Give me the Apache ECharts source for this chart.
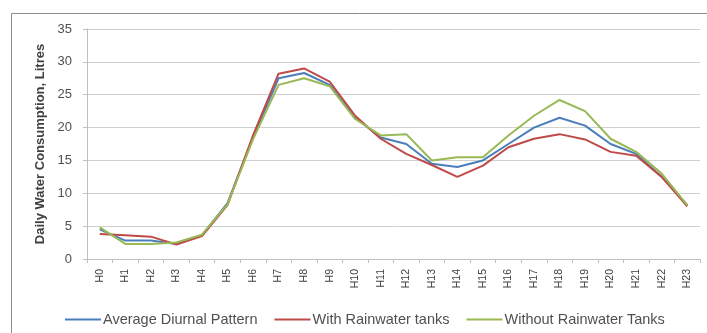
<!DOCTYPE html>
<html>
<head>
<meta charset="utf-8">
<script src="https://cdn.jsdelivr.net/npm/echarts@6/dist/echarts.min.js"></script>
<style>
  html, body { margin: 0; padding: 0; background: #fff; }
  #chart { width: 707px; height: 333px; }
</style>
</head>
<body>
<div id="chart"></div>
<script>
// Hours of the day
const hours = ['H0','H1','H2','H3','H4','H5','H6','H7','H8','H9','H10','H11',
               'H12','H13','H14','H15','H16','H17','H18','H19','H20','H21','H22','H23'];

// Daily water consumption (litres) per hour
const averagePattern = [4.5, 2.8, 2.8, 2.3, 3.6, 8.5, 18.5, 27.5, 28.3, 26.5, 21.5, 18.5,
                        17.5, 14.5, 14.0, 15.0, 17.5, 20.0, 21.5, 20.3, 17.5, 16.0, 12.5, 8.2];
const withTanks      = [3.8, 3.6, 3.4, 2.2, 3.5, 8.2, 18.8, 28.2, 29.0, 27.0, 21.8, 18.3,
                        16.0, 14.3, 12.5, 14.2, 17.0, 18.3, 19.0, 18.2, 16.3, 15.7, 12.5, 8.0];
const withoutTanks   = [4.8, 2.3, 2.3, 2.5, 3.7, 8.3, 18.2, 26.5, 27.5, 26.3, 21.3, 18.8,
                        19.0, 15.0, 15.5, 15.5, 18.8, 21.8, 24.2, 22.5, 18.3, 16.3, 13.0, 8.2];

// Axis ticks
const yMin = 0, yMax = 35, yStep = 5;

const seriesNames = ['Average Diurnal Pattern', 'With Rainwater tanks', 'Without Rainwater Tanks'];
const seriesColors = ['#4a7ebb', '#be4b48', '#98b954'];

const chart = echarts.init(document.getElementById('chart'));
const font = 'Liberation Sans, Arial, sans-serif';

function lineSeries(name, data, color) {
  return {
    name: name,
    type: 'line',
    data: data,
    symbol: 'none',
    lineStyle: { color: color, width: 2 },
    itemStyle: { color: color },
    animation: false
  };
}

chart.setOption({
  animation: false,
  graphic: [{
    type: 'rect',
    shape: { x: 11.5, y: 13.5, width: 710, height: 340 },
    style: { fill: 'none', stroke: '#8c8c8c', lineWidth: 1 },
    silent: true
  }],
  grid: { left: 87, right: 7, top: 29, bottom: 74 },
  legend: {
    data: seriesNames,
    left: 60,
    top: 307,
    icon: 'rect',
    itemWidth: 36,
    itemHeight: 2,
    itemGap: 17,
    textStyle: { fontFamily: font, fontSize: 14.5, color: '#505050', padding: [0, 0, 0, -3] }
  },
  xAxis: {
    type: 'category',
    data: hours,
    boundaryGap: true,
    axisLine: { lineStyle: { color: '#bfbfbf' } },
    axisTick: { show: true, alignWithLabel: false, length: 4, lineStyle: { color: '#bfbfbf' } },
    axisLabel: { rotate: 90, fontFamily: font, fontSize: 10.5, color: '#404040', margin: 10 }
  },
  yAxis: {
    type: 'value',
    min: yMin,
    max: yMax,
    interval: yStep,
    name: 'Daily Water Consumption, Litres',
    nameLocation: 'middle',
    nameGap: 40,
    nameTextStyle: { fontFamily: font, fontSize: 13, fontWeight: 'bold', color: '#404040' },
    axisLine: { show: true, lineStyle: { color: '#bfbfbf' } },
    axisTick: { show: true, length: 4, lineStyle: { color: '#bfbfbf' } },
    axisLabel: { fontFamily: font, fontSize: 13, color: '#505050', margin: 15 },
    splitLine: { lineStyle: { color: '#d0d0d0', width: 1 } }
  },
  series: [
    lineSeries(seriesNames[0], averagePattern, seriesColors[0]),
    lineSeries(seriesNames[1], withTanks, seriesColors[1]),
    lineSeries(seriesNames[2], withoutTanks, seriesColors[2])
  ]
});
</script>
</body>
</html>
